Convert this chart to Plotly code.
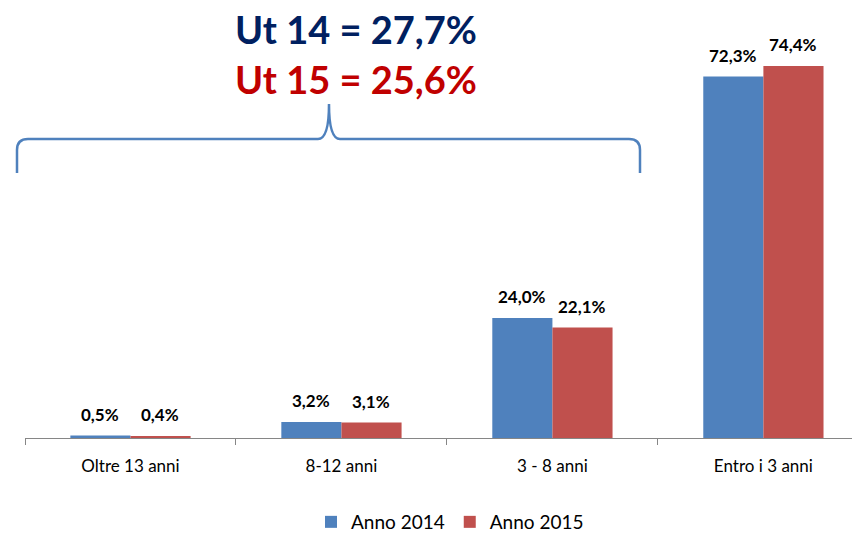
import plotly.graph_objects as go

categories = ["Oltre 13 anni", "8-12 anni", "3 - 8 anni", "Entro i 3 anni"]
anno_2014 = [0.5, 3.2, 24.0, 72.3]
anno_2015 = [0.4, 3.1, 22.1, 74.4]
series_names = ["Anno 2014", "Anno 2015"]
colors = ["#4F81BD", "#C0504D"]
headline = ["Ut 14 = 27,7%", "Ut 15 = 25,6%"]
headline_colors = ["#002060", "#C00000"]

FONT = "Lato, 'Liberation Sans', Arial, sans-serif"
W, H = 852, 534
L, R, T, B = 25, 0, 0, 96
PW, PH = W - L - R, H - T - B


def fmt(v):
    return f"{v:.1f}%".replace(".", ",")


fig = go.Figure()
for name, vals, col in zip(series_names, [anno_2014, anno_2015], colors):
    fig.add_trace(go.Bar(x=categories, y=vals, name=name, marker_color=col,
                         marker_line_width=0))

annotations = []
for vals, shift in [(anno_2014, -30), (anno_2015, 30)]:
    for c, v in zip(categories, vals):
        annotations.append(dict(x=c, y=v, xref="x", yref="y", text=fmt(v),
                                showarrow=False, xshift=shift, yshift=9,
                                yanchor="bottom",
                                font=dict(family=FONT, size=17, color="#000000",
                                          weight="bold")))


def px(x):
    return (x - L) / PW


def py(y):
    return (H - B - y) / PH


for i, (txt, col) in enumerate(zip(headline, headline_colors)):
    annotations.append(dict(x=px(356), y=py(29 + 50 * i), xref="paper", yref="paper",
                            text=txt, showarrow=False, xanchor="center", yanchor="middle",
                            font=dict(family=FONT, size=38, color=col, weight="bold")))

pts = [("M", 17, 173), ("L", 17, 150), ("Q", 17, 139, 28, 139), ("L", 318, 139),
       ("Q", 329, 139, 329, 104), ("Q", 329, 139, 340, 139), ("L", 629, 139),
       ("Q", 640, 139, 640, 150), ("L", 640, 173)]
path = ""
for p in pts:
    cmd = p[0]
    coords = p[1:]
    s = " ".join(f"{px(coords[k]):.5f},{py(coords[k+1]):.5f}" for k in range(0, len(coords), 2))
    path += f"{cmd}{s} "

fig.update_layout(
    width=W, height=H,
    margin=dict(l=L, r=R, t=T, b=B, autoexpand=False),
    paper_bgcolor="white", plot_bgcolor="white",
    barmode="group", bargap=0.43, bargroupgap=0,
    showlegend=True,
    legend=dict(orientation="h", x=px(450), xanchor="center", y=py(522), yanchor="middle",
                font=dict(family=FONT, size=19, color="#000000"), itemwidth=30),
    xaxis=dict(range=[-0.5, 3.42], showline=True, linecolor="#868686", linewidth=1,
               ticks="outside", tickson="boundaries", ticklen=6, tickcolor="#868686",
               tickfont=dict(family=FONT, size=17, color="#000000"), ticklabelstandoff=13,
               showgrid=False, automargin=False),
    yaxis=dict(range=[0, PH / 5.0], visible=False, showgrid=False, zeroline=False),
    annotations=annotations,
    shapes=[dict(type="path", path=path.strip(), xref="paper", yref="paper",
                 line=dict(color="#4F81BD", width=2.5))],
)

fig.write_html("out.html", config={"displayModeBar": False},
               post_script="document.body.style.margin='0';document.body.style.padding='0';")
